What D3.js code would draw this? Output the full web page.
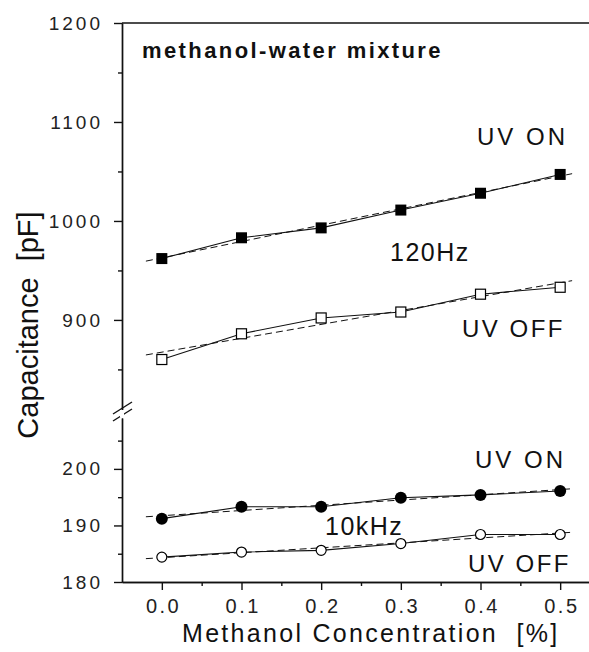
<!DOCTYPE html>
<html>
<head>
<meta charset="utf-8">
<script src="https://cdn.jsdelivr.net/npm/d3@7"></script>
<style>
  body { margin: 0; background: #fff; }
  text { font-family: "Liberation Sans", Arial, sans-serif; fill: #111; }
</style>
</head>
<body>
<script>
// data
var conc = [0.0, 0.1, 0.2, 0.3, 0.4, 0.5];
var on120 = [962, 983, 993, 1011, 1028, 1047];
var off120 = [860, 886, 902, 908, 926, 933];
var on10k = [191.2, 193.3, 193.3, 194.9, 195.4, 196.1];
var off10k = [184.4, 185.3, 185.6, 186.8, 188.4, 188.4];

var xTicks = [0.0, 0.1, 0.2, 0.3, 0.4, 0.5],
    xMinor = [0.05, 0.15, 0.25, 0.35, 0.45],
    topTicks = [900, 1000, 1100, 1200],
    topMinor = [850, 950, 1050, 1150],
    bottomTicks = [180, 190, 200],
    bottomMinor = [185, 195, 205];

var width = 589, height = 652;

// x scale
var xScale = d3.scaleLinear().domain([-0.05, 0.55]).range([122, 600]);
// broken y axis: upper part (120 Hz) and lower part (10 kHz)
var yTop = d3.scaleLinear().domain([809, 1200]).range([410, 23]);
var yBot = d3.scaleLinear().domain([180, 209]).range([582, 418]);

var svg = d3.select("body").append("svg")
    .attr("width", width)
    .attr("height", height);

// axes
function leftAxis(scale, major, minor) {
  svg.append("g")
      .attr("transform", "translate(122,0)")
      .call(d3.axisLeft(scale).tickValues(minor).tickSize(4).tickSizeOuter(0).tickFormat(""));
  svg.append("g")
      .attr("class", "y-axis")
      .attr("transform", "translate(122,0)")
      .call(d3.axisLeft(scale).tickValues(major).tickSize(8).tickSizeOuter(0)
        .tickPadding(11).tickFormat(d3.format("d")));
}
leftAxis(yTop, topTicks, topMinor);
leftAxis(yBot, bottomTicks, bottomMinor);

svg.append("g")
    .attr("transform", "translate(0,582)")
    .call(d3.axisBottom(xScale).tickValues(xMinor).tickSize(4).tickSizeOuter(0).tickFormat(""));
svg.append("g")
    .attr("class", "x-axis")
    .attr("transform", "translate(0,582)")
    .call(d3.axisBottom(xScale).tickValues(xTicks).tickSize(8).tickSizeOuter(0)
      .tickPadding(9).tickFormat(d3.format(".1f")));

// top frame line
svg.append("line")
    .attr("x1", xScale.range()[0]).attr("x2", xScale.range()[1])
    .attr("y1", yTop(1200)).attr("y2", yTop(1200))
    .attr("stroke", "#111").attr("stroke-width", 1.4);

svg.selectAll(".domain, .tick line").attr("stroke", "#111").attr("stroke-width", 1.4);
svg.selectAll(".y-axis text")
    .style("font-size", "19px").style("letter-spacing", "3px").style("fill", "#222");
svg.selectAll(".x-axis text")
    .style("font-size", "20px").style("letter-spacing", "2.5px").style("fill", "#222")
    .attr("dx", 1.2);

// axis break marks
[-4, 3].forEach(function(off) {
  svg.append("line")
      .attr("x1", 113).attr("y1", 418 + off)
      .attr("x2", 132).attr("y2", 406 + off)
      .attr("stroke", "#111").attr("stroke-width", 1.4);
});
svg.append("rect")
    .attr("x", 120).attr("y", 410).attr("width", 4).attr("height", 7)
    .attr("fill", "#fff");

// series: fit line (dashed), connecting line and markers
function fit(xs, ys) {
  var mx = d3.mean(xs), my = d3.mean(ys);
  var sxy = d3.sum(xs, function(x, i) { return (x - mx) * (ys[i] - my); });
  var sxx = d3.sum(xs, function(x) { return (x - mx) * (x - mx); });
  var b = sxy / sxx;
  return function(x) { return my + b * (x - mx); };
}

function series(vals, yScale, shape, filled) {
  var pts = conc.map(function(c, i) { return [c, vals[i]]; });
  var f = fit(conc, vals);
  var line = d3.line()
      .x(function(d) { return xScale(d[0]); })
      .y(function(d) { return yScale(d[1]); });

  svg.append("path")
      .datum([[-0.02, f(-0.02)], [0.515, f(0.515)]])
      .attr("d", line)
      .attr("fill", "none").attr("stroke", "#111").attr("stroke-width", 1)
      .attr("stroke-dasharray", "7,4");
  svg.append("path")
      .datum(pts)
      .attr("d", line)
      .attr("fill", "none").attr("stroke", "#111").attr("stroke-width", 1.1);

  var s = filled ? 11 : 10;
  if (shape === "square") {
    svg.selectAll(null).data(pts).enter().append("rect")
        .attr("x", function(d) { return xScale(d[0]) - s / 2; })
        .attr("y", function(d) { return yScale(d[1]) - s / 2; })
        .attr("width", s).attr("height", s)
        .attr("fill", filled ? "#000" : "#fff")
        .attr("stroke", "#000").attr("stroke-width", filled ? 0 : 1.2);
  } else {
    svg.selectAll(null).data(pts).enter().append("circle")
        .attr("cx", function(d) { return xScale(d[0]); })
        .attr("cy", function(d) { return yScale(d[1]); })
        .attr("r", filled ? 6 : 5)
        .attr("fill", filled ? "#000" : "#fff")
        .attr("stroke", "#000").attr("stroke-width", filled ? 0 : 1.2);
  }
}

series(on120, yTop, "square", true);
series(off120, yTop, "square", false);
series(on10k, yBot, "circle", true);
series(off10k, yBot, "circle", false);

// labels
function label(txt, x, y, size, spacing, bold) {
  svg.append("text")
      .attr("x", x).attr("y", y)
      .style("font-size", size + "px")
      .style("letter-spacing", spacing + "px")
      .style("font-weight", bold ? "bold" : "normal")
      .text(txt);
}
label("methanol-water mixture", 142, 58, 22, 2.4, true);
label("UV ON", 477, 145, 24, 3);
label("120Hz", 390, 261, 25, 1.5);
label("UV OFF", 462, 337, 24, 2.5);
label("UV ON", 475, 468, 24, 3);
label("10kHz", 325, 535, 25, 1.5);
label("UV OFF", 468, 572, 24, 2.5);

svg.append("text")
    .attr("x", 182).attr("y", 642)
    .style("font-size", "25px").style("letter-spacing", "2.3px")
    .text("Methanol Concentration\u00a0\u00a0[%]");

svg.append("text")
    .attr("transform", "translate(38,325) rotate(-90)")
    .attr("text-anchor", "middle")
    .style("font-size", "29px")
    .text("Capacitance\u00a0\u00a0[pF]");
</script>
</body>
</html>
